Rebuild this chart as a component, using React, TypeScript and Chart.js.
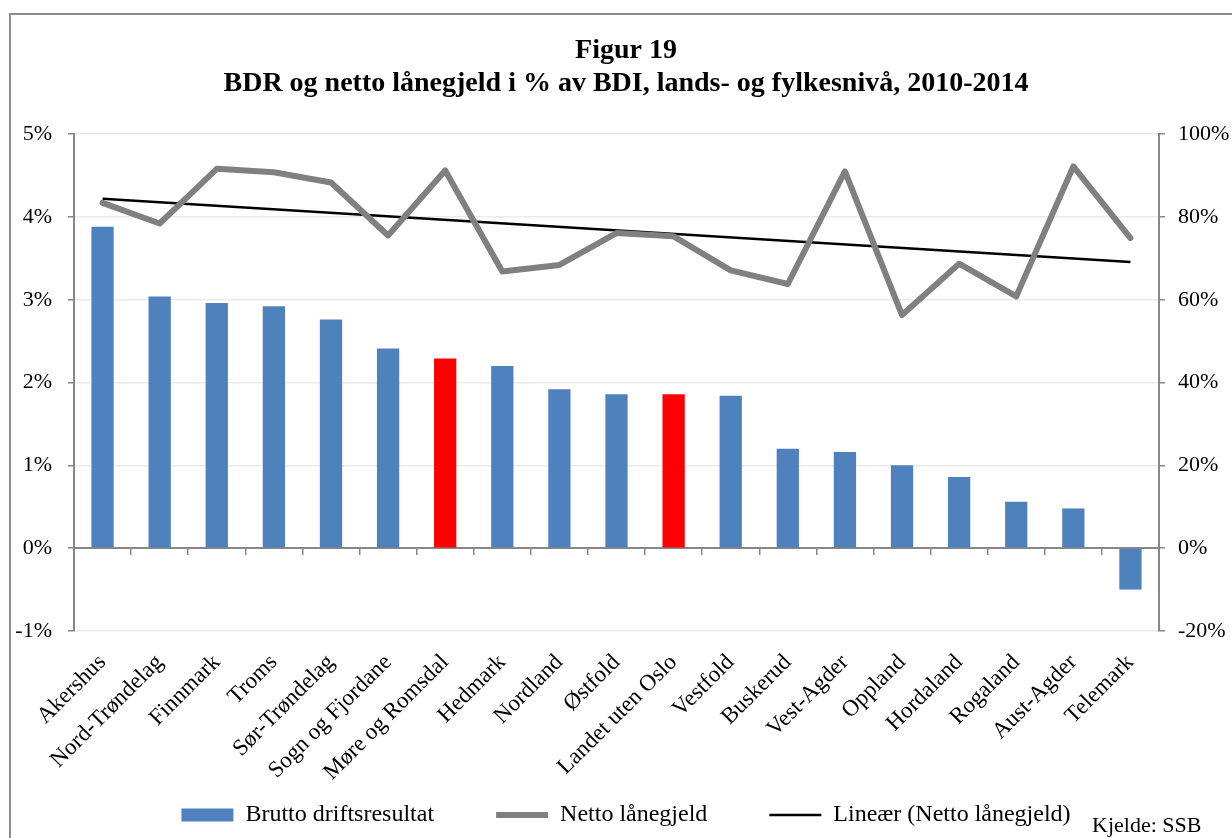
import React, { useEffect, useRef } from 'react';
import { Chart, registerables } from 'chart.js';

Chart.register(...registerables);

const categories = [
  'Akershus', 'Nord-Trøndelag', 'Finnmark', 'Troms', 'Sør-Trøndelag', 'Sogn og Fjordane',
  'Møre og Romsdal', 'Hedmark', 'Nordland', 'Østfold', 'Landet uten Oslo', 'Vestfold',
  'Buskerud', 'Vest-Agder', 'Oppland', 'Hordaland', 'Rogaland', 'Aust-Agder', 'Telemark',
];
const bruttoDriftsresultat = [
  3.88, 3.04, 2.96, 2.92, 2.76, 2.41, 2.29, 2.2, 1.92, 1.86, 1.86, 1.84, 1.2, 1.16, 1.0, 0.86, 0.56, 0.48, -0.5,
];
const nettoLanegjeld = [
  83.4, 78.4, 91.6, 90.8, 88.3, 75.5, 91.2, 66.8, 68.4, 76.1, 75.3, 67.1, 63.8, 91.0, 56.3, 68.7, 60.8, 92.2, 74.9,
];
// Linear trend of Netto lånegjeld: values read at first and last category
const trendStart = 84.4;
const trendEnd = 69.1;
const highlighted = ['Møre og Romsdal', 'Landet uten Oslo'];
const leftAxis = { min: -1, max: 5, step: 1 };
const rightAxis = { min: -20, max: 100, step: 20 };
const titleLines = ['Figur 19', 'BDR og netto lånegjeld i % av BDI, lands- og fylkesnivå, 2010-2014'];
const seriesNames = ['Brutto driftsresultat', 'Netto lånegjeld', 'Lineær (Netto lånegjeld)'];
const sourceText = 'Kjelde: SSB';

const FONT = "'Liberation Serif', 'Times New Roman', serif";
const BLUE = '#4f81bd';
const RED = '#ff0000';
const GRAY_LINE = '#808080';
const AXIS = '#878787';
const GRID = '#ebebeb';
const PAD_LEFT = 12;
const PAD_RIGHT = -8;

export default function App() {
  const canvasRef = useRef<HTMLCanvasElement | null>(null);

  useEffect(() => {
    const canvas = canvasRef.current;
    if (!canvas) return;
    const n = categories.length;
    const trendData = categories.map((_, i) => (i === 0 ? trendStart : i === n - 1 ? trendEnd : null));
    const barColors = categories.map((c) => (highlighted.includes(c) ? RED : BLUE));

    const chart = new Chart(canvas, {
      type: 'bar',
      data: {
        labels: categories,
        datasets: [
          {
            type: 'bar',
            label: seriesNames[0],
            data: bruttoDriftsresultat,
            backgroundColor: barColors,
            borderWidth: 0,
            yAxisID: 'y',
            xAxisID: 'x',
            categoryPercentage: 1,
            barPercentage: 0.39,
          },
          {
            type: 'line',
            label: seriesNames[1],
            data: nettoLanegjeld,
            borderColor: GRAY_LINE,
            backgroundColor: GRAY_LINE,
            borderWidth: 6,
            pointRadius: 0,
            tension: 0,
            borderJoinStyle: 'round',
            borderCapStyle: 'round',
            yAxisID: 'y1',
            xAxisID: 'x',
          },
          {
            type: 'line',
            label: seriesNames[2],
            data: trendData,
            borderColor: '#000000',
            backgroundColor: '#000000',
            borderWidth: 2.5,
            pointRadius: 0,
            spanGaps: true,
            yAxisID: 'y1',
            xAxisID: 'x',
          },
        ],
      } as any,
      options: {
        animation: false,
        responsive: false,
        layout: { padding: { left: PAD_LEFT, right: PAD_RIGHT, top: 0, bottom: 1 } },
        plugins: {
          title: {
            display: true,
            text: titleLines,
            color: '#000000',
            font: { family: FONT, size: 28, weight: 'bold', lineHeight: 1.18 },
            padding: { top: 34, bottom: 34 },
          },
          legend: {
            position: 'bottom',
            title: {
              display: true,
              text: ' ',
              font: { size: 1, lineHeight: 1 },
              padding: { top: 109, bottom: 0 },
            },
            labels: {
              usePointStyle: true,
              pointStyleWidth: 52,
              boxHeight: 13,
              padding: 62,
              color: '#000000',
              font: { family: FONT, size: 24 },
              generateLabels: (ch: any) =>
                (Chart.defaults.plugins.legend.labels.generateLabels as any)(ch).map((item: any, i: number) => ({
                  ...item,
                  pointStyle: i === 0 ? 'rect' : 'line',
                  fillStyle: i === 0 ? BLUE : item.fillStyle,
                  lineWidth: i === 0 ? 0 : item.lineWidth,
                })),
            },
          },
          tooltip: { enabled: false },
        },
        scales: {
          x: {
            type: 'category',
            axis: 'x',
            position: { y: leftAxis.min },
            offset: true,
            grid: { display: false },
            border: { display: false },
            ticks: {
              autoSkip: false,
              maxRotation: 45,
              minRotation: 45,
              color: '#000000',
              font: { family: FONT, size: 23 },
              padding: 10,
            },
          },
          x0: {
            type: 'category',
            axis: 'x',
            position: { y: 0 },
            offset: true,
            ticks: { display: false },
            grid: { offset: true, drawOnChartArea: false, drawTicks: true, tickLength: 6, tickColor: AXIS, lineWidth: 1.5 },
            border: { color: AXIS, width: 2 },
          },
          y: {
            position: 'left',
            min: leftAxis.min,
            max: leftAxis.max,
            ticks: {
              stepSize: leftAxis.step,
              callback: (v: any) => `${v}%`,
              color: '#000000',
              font: { family: FONT, size: 22 },
              padding: 16,
            },
            grid: { color: GRID, lineWidth: 1.5, tickColor: AXIS, tickLength: 6 },
            border: { color: AXIS, width: 2 },
            afterFit: (s: any) => {
              s.width = 74 - PAD_LEFT;
            },
          },
          y1: {
            position: 'right',
            min: rightAxis.min,
            max: rightAxis.max,
            ticks: {
              stepSize: rightAxis.step,
              callback: (v: any) => `${v}%`,
              color: '#000000',
              font: { family: FONT, size: 22 },
              padding: 13,
            },
            grid: { drawOnChartArea: false, tickColor: AXIS, tickLength: 6, lineWidth: 1.5 },
            border: { color: AXIS, width: 2 },
            afterFit: (s: any) => {
              s.width = 1232 - PAD_RIGHT - 1159;
            },
          },
        },
      } as any,
    });
    return () => chart.destroy();
  }, []);

  return (
    <div>
      <div
        style={{
          position: 'absolute',
          left: 9,
          top: 13,
          width: 1221,
          height: 823,
          borderTop: '2px solid #8c8c8c',
          borderLeft: '2px solid #8c8c8c',
        }}
      />
      <canvas
        ref={canvasRef}
        width={1232}
        height={838}
        style={{ position: 'absolute', left: 0, top: 0, width: 1232, height: 838 }}
      />
      <div
        style={{
          position: 'absolute',
          left: 1092,
          top: 814,
          fontFamily: FONT,
          fontSize: 22,
          lineHeight: '22px',
          color: '#000',
          whiteSpace: 'nowrap',
        }}
      >
        {sourceText}
      </div>
    </div>
  );
}
